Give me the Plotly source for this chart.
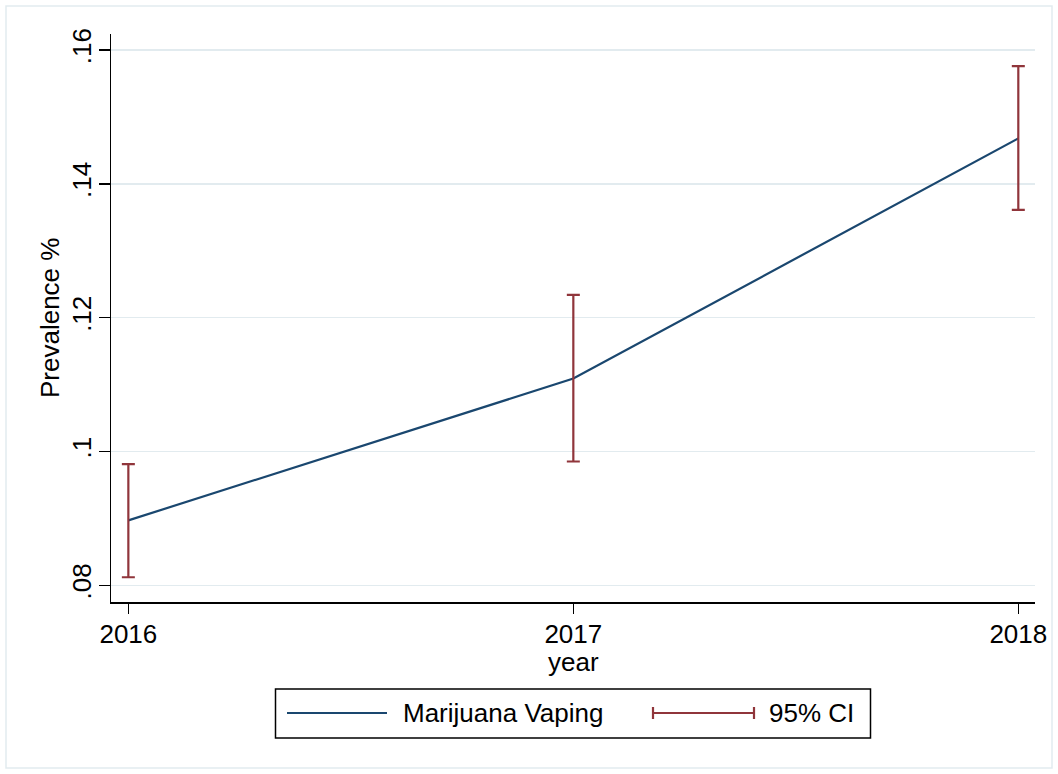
import plotly.graph_objects as go

# Survey years and estimated prevalence of marijuana vaping with 95% CI
years = [2016, 2017, 2018]
prevalence = [0.0897, 0.1109, 0.1468]
ci_low = [0.0812, 0.0985, 0.1361]
ci_high = [0.0981, 0.1234, 0.1576]

y_tickvals = [0.08, 0.10, 0.12, 0.14, 0.16]
y_ticktext = [".08", ".1", ".12", ".14", ".16"]

series_name = "Marijuana Vaping"
ci_name = "95% CI"

NAVY = "#1a476f"
MAROON = "#90353b"
GRID = "#e2ebef"
FONT = "Liberation Sans, Arial, Helvetica, sans-serif"
FS = 26

W, H = 1058, 774
L, R, T, B = 111, 23, 34, 172
PW, PH = W - L - R, H - T - B


def px(x):
    """Horizontal pixel position -> paper coordinate."""
    return (x - L) / PW


def py(y):
    """Vertical pixel position -> paper coordinate."""
    return (H - B - y) / PH


fig = go.Figure()

fig.add_trace(go.Scatter(
    x=years, y=prevalence, mode="lines", name=series_name,
    line=dict(color=NAVY, width=2.2), showlegend=False, hoverinfo="skip",
))

fig.add_trace(go.Scatter(
    x=years, y=prevalence, mode="markers", name=ci_name,
    marker=dict(size=1, opacity=0),
    error_y=dict(
        type="data", symmetric=False,
        array=[h - p for h, p in zip(ci_high, prevalence)],
        arrayminus=[p - l for p, l in zip(prevalence, ci_low)],
        color=MAROON, thickness=2.2, width=6.5,
    ),
    showlegend=False, hoverinfo="skip",
))

shapes = [
    # light outer frame of the graph region
    dict(type="rect", xref="paper", yref="paper",
         x0=px(6), x1=px(1052), y0=py(768), y1=py(6),
         line=dict(color=GRID, width=1.5), fillcolor="rgba(0,0,0,0)", layer="below"),
    # legend box
    dict(type="rect", xref="paper", yref="paper",
         x0=px(275.5), x1=px(870.5), y0=py(738), y1=py(689),
         line=dict(color="black", width=1.5), fillcolor="white"),
    # legend key: line
    dict(type="line", xref="paper", yref="paper",
         x0=px(287), x1=px(387), y0=py(713), y1=py(713),
         line=dict(color=NAVY, width=2.2)),
    # legend key: capped range
    dict(type="line", xref="paper", yref="paper",
         x0=px(653), x1=px(754), y0=py(713), y1=py(713),
         line=dict(color=MAROON, width=2.2)),
    dict(type="line", xref="paper", yref="paper",
         x0=px(653), x1=px(653), y0=py(707), y1=py(719),
         line=dict(color=MAROON, width=2.2)),
    dict(type="line", xref="paper", yref="paper",
         x0=px(754), x1=px(754), y0=py(707), y1=py(719),
         line=dict(color=MAROON, width=2.2)),
]

annotations = [
    dict(text="Prevalence %", xref="paper", yref="paper", x=px(50), y=0.5,
         textangle=-90, showarrow=False, xanchor="center", yanchor="middle",
         borderpad=0, font=dict(family=FONT, size=FS, color="black")),
    dict(text="year", xref="paper", yref="paper", x=0.5, y=py(662),
         showarrow=False, xanchor="center", yanchor="middle",
         borderpad=0, font=dict(family=FONT, size=FS, color="black")),
    dict(text=series_name, xref="paper", yref="paper", x=px(402), y=py(713),
         showarrow=False, xanchor="left", yanchor="middle",
         borderpad=0, font=dict(family=FONT, size=FS, color="black")),
    dict(text=ci_name, xref="paper", yref="paper", x=px(768), y=py(713),
         showarrow=False, xanchor="left", yanchor="middle",
         borderpad=0, font=dict(family=FONT, size=FS, color="black")),
]

fig.update_layout(
    width=W, height=H, autosize=False,
    margin=dict(l=L, r=R, t=T, b=B, pad=0),
    paper_bgcolor="white", plot_bgcolor="white",
    font=dict(family=FONT, size=FS, color="black"),
    showlegend=False, hovermode=False,
    shapes=shapes, annotations=annotations,
    xaxis=dict(
        range=[2015.961, 2018.0375], tickvals=years, ticktext=[str(y) for y in years],
        showgrid=False, zeroline=False, showline=True, linecolor="black", linewidth=1.5,
        ticks="outside", ticklen=10, tickwidth=1.5, tickcolor="black",
        ticklabelstandoff=-2,
        tickfont=dict(family=FONT, size=FS, color="black"),
    ),
    yaxis=dict(
        range=[0.0775, 0.1624], tickvals=y_tickvals, ticktext=y_ticktext,
        showgrid=True, gridcolor=GRID, gridwidth=1.5,
        zeroline=False, showline=True, linecolor="black", linewidth=1.5,
        ticks="outside", ticklen=11, tickwidth=1.5, tickcolor="black",
        tickangle=-90, ticklabelstandoff=-3,
        tickfont=dict(family=FONT, size=FS, color="black"),
    ),
)

fig.write_html("out.html", config=dict(displayModeBar=False, staticPlot=True))
